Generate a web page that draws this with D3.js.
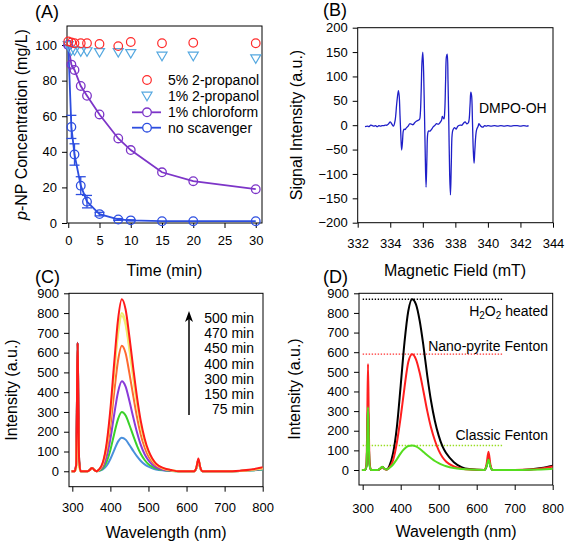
<!DOCTYPE html>
<html><head><meta charset="utf-8">
<script src="https://cdn.jsdelivr.net/npm/d3@7"></script>
<style>
body{margin:0;background:#fff}
svg{display:block}
text{font-family:"Liberation Sans",Arial,Helvetica,sans-serif;fill:#000}
</style>
</head><body>
<svg id="c" width="567" height="544"></svg>
<script>
// ---------- Panel A data ----------
const timeA = [0, 0.5, 1, 2, 3, 5, 8, 10, 15, 20, 30];
const prop5 = [102, 101.5, 101, 101, 101, 100.6, 99.4, 101.7, 101, 101.3, 101];
const prop1 = [100, 97, 97, 96.5, 96.5, 96, 96, 95.5, 94, 94, 92.5];
const chloro1 = [100, 89, 86, 77, 71.5, 61, 47.5, 41, 28.5, 23.5, 19];
const noScav = [100, 54, 38.5, 21, 12, 5, 2, 1.5, 1, 1, 1];
const noScavErr = [0, 6.5, 6, 5, 3.5, 1, 0.5, 0.3, 0, 0, 0];
const legendA = ["5% 2-propanol", "1% 2-propanol", "1% chloroform", "no scavenger"];
const ticksAx = [0, 5, 10, 15, 20, 25, 30];
const ticksAy = [0, 20, 40, 60, 80, 100];

// ---------- Panel B data ----------
const bField = [332.45,332.6,332.7,332.8,332.9,333.0,333.1,333.2,333.3,333.4,333.5,333.6,333.7,333.8,333.9,334.0,334.1,334.2,334.3,334.4,334.5,334.55,334.6,334.65,334.7,334.75,334.8,334.85,334.9,335.0,335.1,335.2,335.3,335.4,335.5,335.6,335.7,335.8,335.85,335.9,335.95,336.0,336.05,336.1,336.15,336.2,336.25,336.3,336.35,336.45,336.55,336.65,336.75,336.85,336.95,337.05,337.15,337.2,337.25,337.3,337.35,337.4,337.45,337.5,337.55,337.6,337.65,337.7,337.75,337.8,337.85,337.95,338.05,338.15,338.3,338.4,338.5,338.6,338.7,338.8,338.9,338.95,339.0,339.05,339.1,339.15,339.2,339.3,339.4,339.45,339.5,339.6,339.7,339.8,339.9,340.0,340.2,340.4,340.6,340.8,341.0,341.2,341.4,341.6,341.8,342.0,342.2,342.4,342.5];
const bSignal = [-3,-2,-3,0,-1,-2,-1,-3,-1,-2,-1,-1,0,0,3,7,2,-2,10,45,71,60,20,-20,-51,-35,-12,-8,-9,-5,-2,3,2,1,5,8,10,12,25,70,130,150,110,30,-60,-127,-70,-18,-12,-12,-8,-3,0,3,2,5,10,18,15,13,30,90,140,146,90,0,-100,-143,-80,-20,-10,-5,-8,-2,0,0,4,7,3,5,40,68,60,10,-50,-78,-50,-10,-2,3,1,-3,-4,-1,-2,-1,-2,-1,-2,-1,-2,-1,-2,-1,-1,-2,-1,-2,-1];
const ticksBx = [332, 334, 336, 338, 340, 342, 344];
const ticksBy = [-200, -150, -100, -50, 0, 50, 100, 150, 200];

// ---------- Panel C / D data ----------
const wl = [298,306,310,312,314,316,318,322,340,346,352,358,364,370,380,390,400,410,420,430,440,450,460,470,480,490,500,510,520,540,560,580,620,626,631,636,642,700,740,770,800];
const c75  = [0,0,30,300,650,300,50,0, 0,7,16,6,0, 2,9,28,62,107,150,170,160,133,103,75,52,35,23,15,9,4,2,0, 0,16,52,16,0, 0,1,4,8];
const c150 = [0,0,30,300,650,300,50,0, 0,7,17,6,0, 3,15,48,108,189,264,300,282,234,180,129,87,57,36,23,14,6,2,0, 0,17,55,17,0, 0,2,5,10];
const c300 = [0,0,30,300,650,300,50,0, 0,7,17,6,0, 5,23,73,164,287,400,455,428,355,273,196,132,86,55,34,20,8,3,0, 0,18,56,18,0, 0,2,6,13];
const c400 = [0,0,30,300,645,300,50,0, 0,7,17,6,0, 6,32,102,229,400,559,635,597,495,381,273,184,121,76,48,29,11,4,0, 0,18,58,18,0, 0,2,7,15];
const c450 = [0,0,15,160,340,160,25,0, 0,7,17,6,0, 8,39,126,283,495,691,785,738,612,471,338,228,149,94,59,35,14,5,0, 0,18,58,18,0, 0,2,7,15];
const c470 = [0,0,15,160,340,160,25,0, 0,7,17,6,0, 8,40,128,288,504,704,800,752,624,480,344,232,152,96,60,36,14,6,0, 0,18,58,18,0, 0,2,7,15];
const c500 = [0,0,30,300,650,300,50,0, 0,7,17,6,0, 9,44,139,313,548,766,870,818,679,522,374,252,165,104,65,39,16,6,0, 0,20,65,20,0, 0,3,9,20];
const cLabels = ["500 min", "470 min", "450 min", "400 min", "300 min", "150 min", "75 min"];

const dHeated  = [0,0,20,150,330,150,30,0, 0,6,15,5,3, 20,85,220,430,650,810,870,845,760,630,480,350,250,175,120,85,40,15,5, 0,20,60,20,0, 0,3,10,22];
const dNano    = [0,0,30,250,540,250,40,0, 0,6,15,5,2, 12,50,140,270,420,550,590,565,495,400,300,215,150,100,65,42,18,7,2, 0,30,93,30,0, 0,2,8,18];
const dClassic = [0,0,20,150,320,150,25,0, 0,8,17,6,3, 10,28,55,85,108,122,125,120,108,92,75,60,46,35,26,19,10,5,2, 0,18,54,18,0, 0,1,3,6];
const dRefLevels = [870, 590, 125];
const dRefRange = [300, 670];
const ticksWl = [300, 400, 500, 600, 700, 800];
const ticksI = [0, 100, 200, 300, 400, 500, 600, 700, 800, 900];

// ---------- drawing ----------
const svg = d3.select("#c");

function panel(o) {
  const x = d3.scaleLinear().domain(o.xd).range([o.l, o.r]);
  const y = d3.scaleLinear().domain(o.yd).range([o.b, o.t]);
  const g = svg.append("g");
  const ax = g.append("g").attr("transform", `translate(0,${o.b})`)
    .call(d3.axisBottom(x).tickValues(o.xt).tickSize(5).tickPadding(o.xpad).tickFormat(d3.format("d")));
  const ay = g.append("g").attr("transform", `translate(${o.l},0)`)
    .call(d3.axisLeft(y).tickValues(o.yt).tickSize(5).tickPadding(o.ypad).tickFormat(d3.format("d")));
  [ax, ay].forEach(a => {
    a.select(".domain").remove();
    a.selectAll(".tick line").attr("stroke", "#000").attr("stroke-width", 1);
    a.selectAll(".tick text").attr("font-size", 13).attr("fill", "#000")
      .attr("font-family", '"Liberation Sans",Arial,sans-serif');
  });
  g.append("rect").attr("x", o.l).attr("y", o.t).attr("width", o.r - o.l).attr("height", o.b - o.t)
    .attr("fill", "none").attr("stroke", "#000").attr("stroke-width", 1);
  return {x, y, g};
}

function label(txt, x, y, size, anchor) {
  return svg.append("text").attr("x", x).attr("y", y).attr("font-size", size)
    .attr("text-anchor", anchor || "start").text(txt);
}
function vtitle(txt, cx, cy) {
  return svg.append("text").attr("transform", `translate(${cx},${cy}) rotate(-90)`)
    .attr("text-anchor", "middle").attr("dy", "0.35em").attr("font-size", 16).text(txt);
}

// ===== Panel A =====
const A = panel({l: 67, r: 262, t: 26, b: 223, xd: [-0.2, 31], yd: [0, 110.7], xt: ticksAx, yt: ticksAy, xpad: 8, ypad: 5});
const cRed = "#ff2a2a", cTri = "#55a8e0", cPur = "#7d35c8", cBlu = "#2d4ee0";
const triPath = (cx, cy) => `M${cx-5},${cy-3.5}L${cx+5},${cy-3.5}L${cx},${cy+5}Z`;
const lineA = d3.line().x((d, i) => A.x(timeA[i])).y(d => A.y(d));

A.g.append("path").attr("d", lineA(chloro1)).attr("fill", "none").attr("stroke", cPur).attr("stroke-width", 1.8);
A.g.append("path").attr("d", lineA(noScav)).attr("fill", "none").attr("stroke", cBlu).attr("stroke-width", 1.8);
noScav.forEach((v, i) => {
  const e = noScavErr[i]; if (!e) return;
  const xx = A.x(timeA[i]);
  A.g.append("line").attr("x1", xx).attr("x2", xx).attr("y1", A.y(v - e)).attr("y2", A.y(v + e)).attr("stroke", cBlu).attr("stroke-width", 1.3);
  [v - e, v + e].forEach(w => A.g.append("line").attr("x1", xx - 5).attr("x2", xx + 5).attr("y1", A.y(w)).attr("y2", A.y(w)).attr("stroke", cBlu).attr("stroke-width", 1.3));
});
A.g.selectAll(null).data(noScav).enter().append("circle")
  .attr("cx", (d, i) => A.x(timeA[i])).attr("cy", d => A.y(d)).attr("r", 4.3)
  .attr("fill", "none").attr("stroke", cBlu).attr("stroke-width", 1.3);
A.g.selectAll(null).data(chloro1).enter().append("circle")
  .attr("cx", (d, i) => A.x(timeA[i])).attr("cy", d => A.y(d)).attr("r", 4.3)
  .attr("fill", "none").attr("stroke", cPur).attr("stroke-width", 1.3);
A.g.selectAll(null).data(prop1).enter().append("path")
  .attr("d", (d, i) => triPath(A.x(timeA[i]), A.y(d)))
  .attr("fill", "none").attr("stroke", cTri).attr("stroke-width", 1.2);
A.g.selectAll(null).data(prop5).enter().append("circle")
  .attr("cx", (d, i) => A.x(timeA[i])).attr("cy", d => A.y(d)).attr("r", 4.3)
  .attr("fill", "none").attr("stroke", cRed).attr("stroke-width", 1.2);

const legY = [80, 95.7, 112.3, 127.7];
A.g.append("circle").attr("cx", 147).attr("cy", legY[0]).attr("r", 4.3).attr("fill", "none").attr("stroke", cRed).attr("stroke-width", 1.2);
A.g.append("path").attr("d", triPath(147, legY[1])).attr("fill", "none").attr("stroke", cTri).attr("stroke-width", 1.2);
[[cPur, legY[2]], [cBlu, legY[3]]].forEach(([c, yy]) => {
  A.g.append("line").attr("x1", 132).attr("x2", 161).attr("y1", yy).attr("y2", yy).attr("stroke", c).attr("stroke-width", 1.8);
  A.g.append("circle").attr("cx", 147).attr("cy", yy).attr("r", 4.3).attr("fill", "#fff").attr("stroke", c).attr("stroke-width", 1.3);
});
legendA.forEach((t, i) => label(t, 168, legY[i] + 5, 14));

label("(A)", 35, 18, 18);
label("Time (min)", 164.5, 276, 16, "middle");
const ta = svg.append("text").attr("transform", "translate(21,124.5) rotate(-90)")
  .attr("text-anchor", "middle").attr("dy", "0.35em").attr("font-size", 16);
ta.append("tspan").attr("font-style", "italic").text("p");
ta.append("tspan").text("-NP Concentration (mg/L)");

// ===== Panel B =====
const B = panel({l: 357.7, r: 553, t: 27.7, b: 222.7, xd: [332, 344], yd: [-200, 200], xt: ticksBx, yt: ticksBy, xpad: 11, ypad: 5});
const lineB = d3.line().x((d, i) => B.x(bField[i])).y(d => B.y(d)).curve(d3.curveCatmullRom.alpha(0.5));
B.g.append("path").attr("d", lineB(bSignal)).attr("fill", "none").attr("stroke", "#1f1fc8").attr("stroke-width", 1.3);
label("DMPO-OH", 479, 113, 14);
label("(B)", 323, 16, 18);
label("Magnetic Field (mT)", 455, 276, 16, "middle");
vtitle("Signal Intensity (a.u.)", 296, 125);

// ===== Panel C =====
const C = panel({l: 69, r: 263, t: 293.3, b: 486.7, xd: [291.3, 800.8], yd: [-78, 900], xt: ticksWl, yt: ticksI, xpad: 11, ypad: 5});
const lineC = d3.line().x((d, i) => C.x(wl[i])).y(d => C.y(d)).curve(d3.curveMonotoneX);
const cSeries = [[c75, "#4a90dc"], [c150, "#3ad12a"], [c300, "#8a3ad8"], [c400, "#ff6a30"], [c450, "#f6e08a"], [c470, "#eeee6a"], [c500, "#ff1a1a"]];
cSeries.forEach(([s, col]) => C.g.append("path").attr("d", lineC(s)).attr("fill", "none").attr("stroke", col).attr("stroke-width", 2));
C.g.append("line").attr("x1", 189).attr("x2", 189).attr("y1", 415).attr("y2", 318).attr("stroke", "#000").attr("stroke-width", 1.5);
C.g.append("path").attr("d", "M185,322L189,311L193,322L189,319Z").attr("fill", "#000");
cLabels.forEach((t, i) => label(t, 254, 323 + i * 15.2, 14, "end"));
label("(C)", 35, 283, 18);
label("Wavelength (nm)", 166, 538, 16, "middle");
vtitle("Intensity (a.u.)", 11, 390);

// ===== Panel D =====
const D = panel({l: 359, r: 552.7, t: 293.3, b: 485, xd: [290.3, 800], yd: [-76.4, 900], xt: ticksWl, yt: ticksI, xpad: 14, ypad: 5});
const lineD = d3.line().x((d, i) => D.x(wl[i])).y(d => D.y(d)).curve(d3.curveMonotoneX);
const dCols = ["#000000", "#ff1f1f", "#55dd1e"];
const refCols = ["#000000", "#ff3030", "#99dd22"];
dRefLevels.forEach((v, i) => D.g.append("line").attr("x1", D.x(dRefRange[0])).attr("x2", D.x(dRefRange[1]))
  .attr("y1", D.y(v)).attr("y2", D.y(v)).attr("stroke", refCols[i]).attr("stroke-width", 1.4).attr("stroke-dasharray", "1.4,1.6"));
[dHeated, dNano, dClassic].forEach((s, i) => D.g.append("path").attr("d", lineD(s)).attr("fill", "none").attr("stroke", dCols[i]).attr("stroke-width", 2));
const h2 = svg.append("text").attr("x", 548).attr("y", 316).attr("font-size", 14).attr("text-anchor", "end");
h2.append("tspan").text("H");
h2.append("tspan").attr("font-size", 10).attr("dy", 3).text("2");
h2.append("tspan").attr("dy", -3).text("O");
h2.append("tspan").attr("font-size", 10).attr("dy", 3).text("2");
h2.append("tspan").attr("dy", -3).text(" heated");
label("Nano-pyrite Fenton", 548, 351, 14, "end");
label("Classic Fenton", 548, 440, 14, "end");
label("(D)", 323, 283, 18);
label("Wavelength (nm)", 456, 537, 16, "middle");
vtitle("Intensity (a.u.)", 294, 389);
</script>
</body></html>
